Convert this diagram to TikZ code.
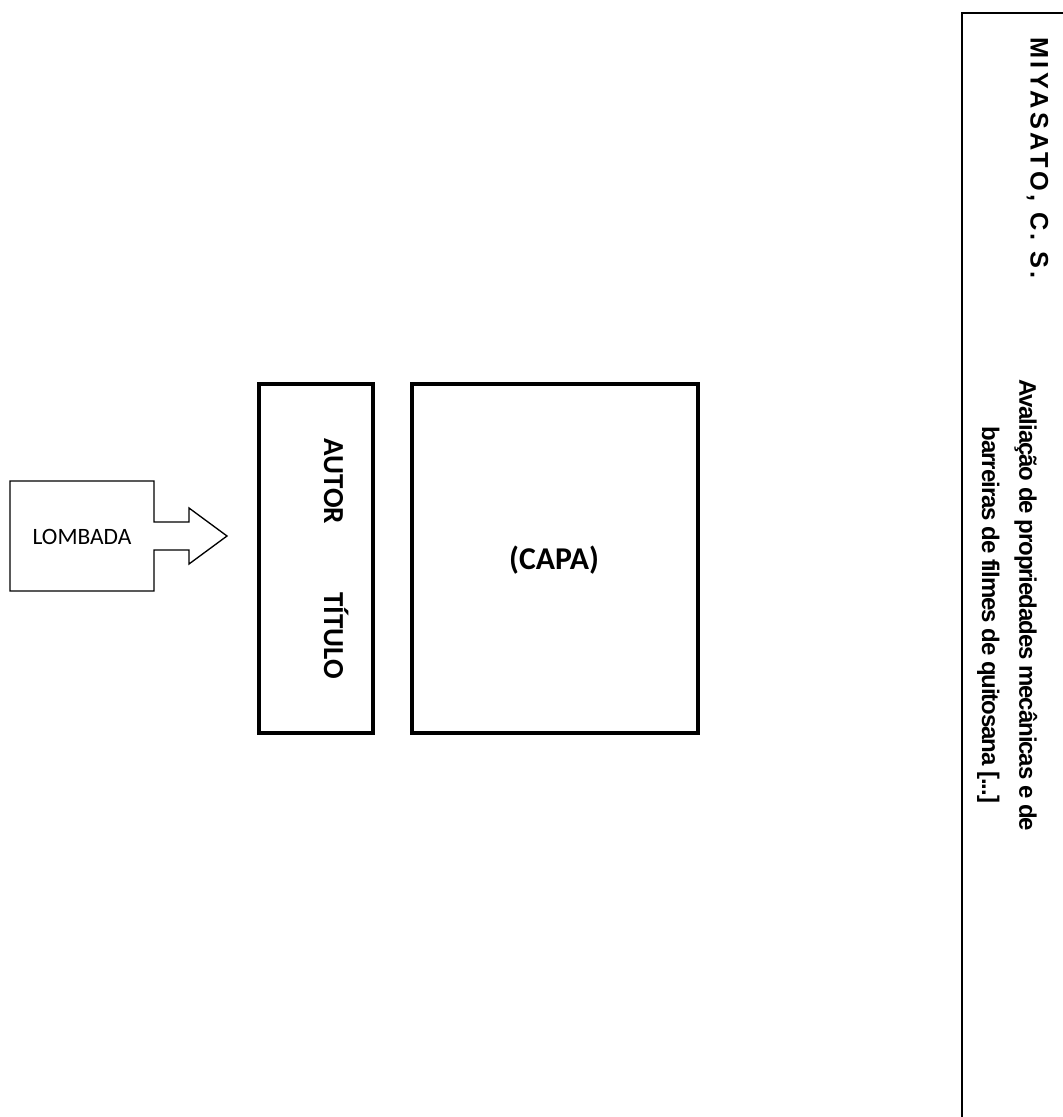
\documentclass[tikz,border=0pt]{standalone}
\usepackage{fontspec}
\setmainfont{Liberation Sans}
\newfontfamily\calibri{Carlito}
\begin{document}
\begin{tikzpicture}[x=0.75pt,y=-0.75pt,
  thickbox/.style={draw, line width=3pt, inner sep=0pt, rectangle},
  thinline/.style={line width=1pt, line join=miter},
  frame/.style={line width=1.5pt},
  lbl/.style={inner sep=0pt, font=\calibri\fontsize{17.6pt}{20pt}\selectfont},
  spinelbl/.style={inner sep=0pt, rotate=-90, anchor=base, font=\calibri\bfseries\fontsize{21.75pt}{24pt}\selectfont},
  capalbl/.style={inner sep=0pt, font=\calibri\bfseries\fontsize{23.8pt}{26pt}\selectfont},
  authlbl/.style={inner sep=0pt, rotate=-90, anchor=base, font=\rmfamily\bfseries\fontsize{19pt}{22pt}\selectfont\addfontfeature{LetterSpace=14}},
  titlbl/.style={inner sep=0pt, rotate=-90, anchor=base, font=\rmfamily\bfseries\fontsize{18pt}{22pt}\selectfont\addfontfeature{LetterSpace=-4.5}}]
\useasboundingbox (0,0) rectangle (1063,1117);
\fill[white] (0,0) rectangle (1063,1117);
% lombada arrow
\draw[thinline] (10,481) -- (154,481) -- (154,522) -- (189,522) -- (189,508) -- (227,536) -- (189,564) -- (189,550) -- (154,550) -- (154,591) -- (10,591) -- cycle;
\node[lbl] (lombada) at (82,537) {LOMBADA};
% spine and cover
\node[thickbox, minimum width=85.5pt, minimum height=261.75pt] (spine) at (316,558.5) {};
\node[thickbox, minimum width=214.5pt, minimum height=261.75pt] (capa) at (555,558.5) {};
\node[spinelbl] (autor) at (324,481.5) {AUTOR};
\node[spinelbl] (titulo) at (324,635.5) {TÍTULO};
\node[capalbl] (capatxt) at (554,560) {(CAPA)};
% right spine frame
\draw[frame] (1070,13) -| (962,1125);
\node[authlbl] (miyasato) at (1030.5,158) {MIYASATO, C. S.};
\node[titlbl] (tit1) at (1019.3,605) {Avaliação de propriedades mecânicas e de};
\node[titlbl] (tit2) at (982,615) {barreiras de filmes de quitosana [...]};
\end{tikzpicture}
\end{document}
